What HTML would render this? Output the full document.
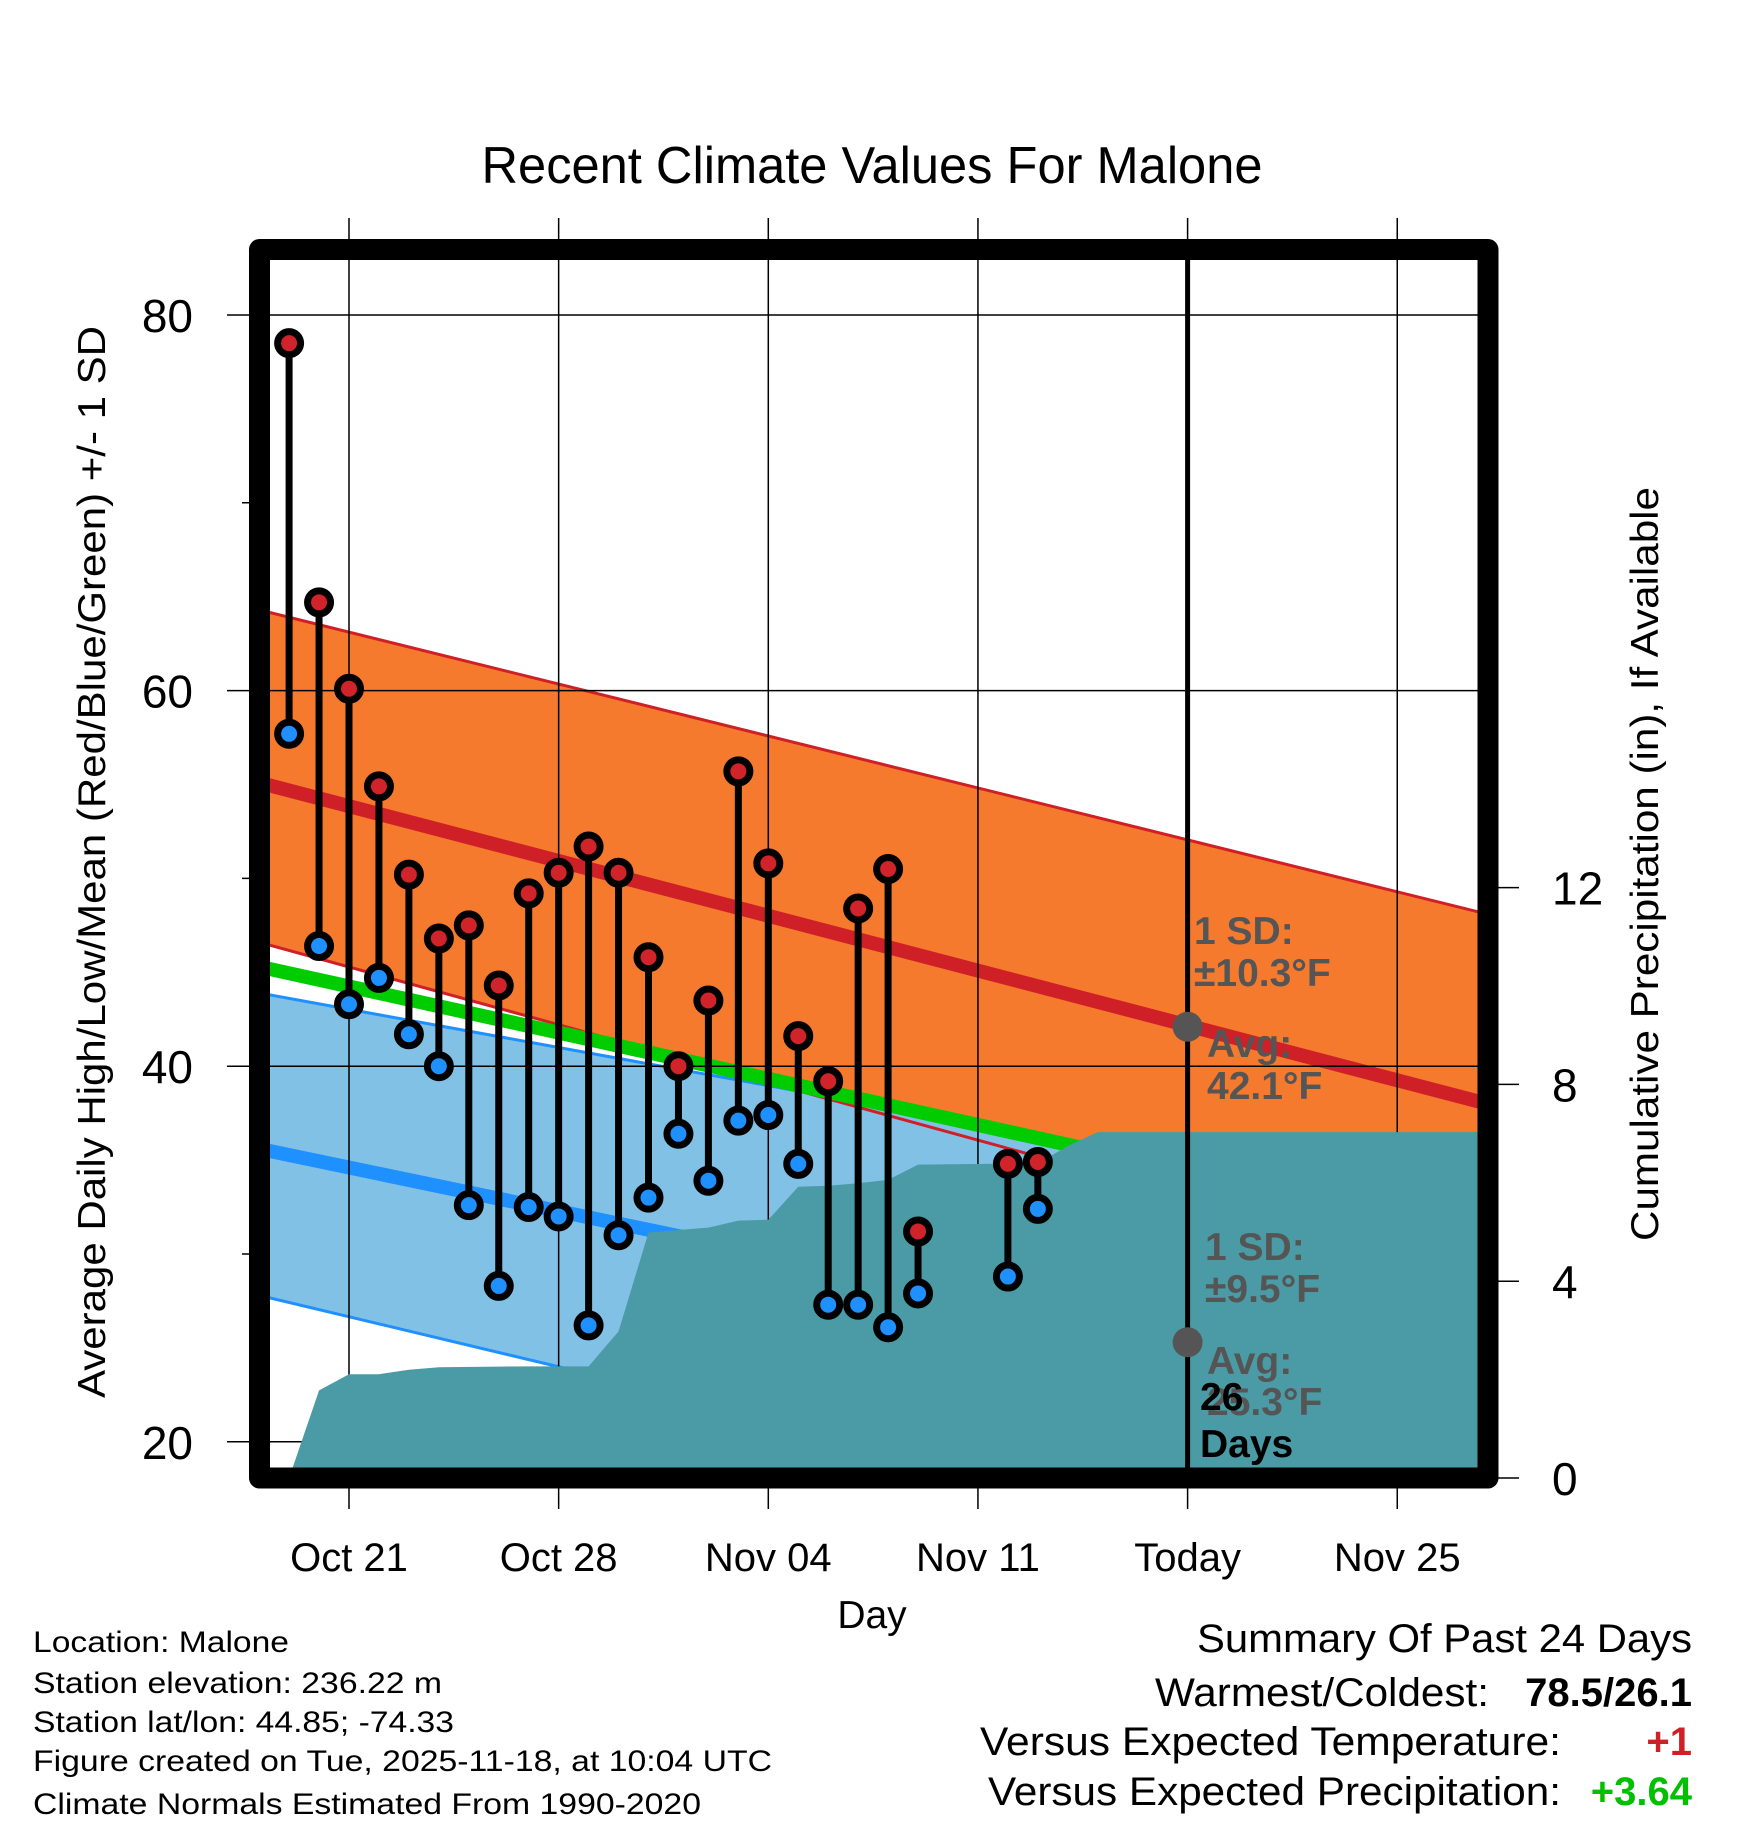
<!DOCTYPE html>
<html><head><meta charset="utf-8"><style>
html,body{margin:0;padding:0;background:#fff;}
svg{display:block;font-family:"Liberation Sans",sans-serif;}
</style></head><body>
<svg id="chart" width="1748" height="1828" viewBox="0 0 1748 1828" xmlns="http://www.w3.org/2000/svg">
<defs><clipPath id="plotclip"><rect x="259.5" y="249.5" width="1228.5" height="1228.5"/></clipPath></defs>
<text x="872" y="183" font-size="52" text-anchor="middle" textLength="781" lengthAdjust="spacingAndGlyphs">Recent Climate Values For Malone</text>
<g id="bands" clip-path="url(#plotclip)"></g>
<g id="grid"></g>
<g id="precip" clip-path="url(#plotclip)"></g>
<g id="marks"></g>
<g id="annot" font-weight="bold" font-size="39" fill="#555"></g>
<rect x="259.5" y="249.5" width="1228.5" height="1228.5" fill="none" stroke="#000" stroke-width="21" stroke-linejoin="round"/>
<g id="axes"></g>
<text transform="translate(105,862) rotate(-90)" font-size="39" text-anchor="middle" textLength="1072" lengthAdjust="spacingAndGlyphs">Average Daily High/Low/Mean (Red/Blue/Green) +/- 1 SD</text>
<text transform="translate(1658,864) rotate(-90)" font-size="39" text-anchor="middle" textLength="754" lengthAdjust="spacingAndGlyphs">Cumulative Precipitation (in), If Available</text>
<text x="872" y="1628" font-size="39" text-anchor="middle">Day</text>
<g font-size="30">
<text x="33" y="1652" textLength="256" lengthAdjust="spacingAndGlyphs">Location: Malone</text>
<text x="33" y="1693" textLength="409" lengthAdjust="spacingAndGlyphs">Station elevation: 236.22 m</text>
<text x="33" y="1732" textLength="421" lengthAdjust="spacingAndGlyphs">Station lat/lon: 44.85; -74.33</text>
<text x="33" y="1771" textLength="739" lengthAdjust="spacingAndGlyphs">Figure created on Tue, 2025-11-18, at 10:04 UTC</text>
<text x="33" y="1814" textLength="668" lengthAdjust="spacingAndGlyphs">Climate Normals Estimated From 1990-2020</text>
</g>
<g font-size="40">
<text x="1197" y="1652" textLength="495" lengthAdjust="spacingAndGlyphs">Summary Of Past 24 Days</text>
<text x="1155" y="1706" textLength="334" lengthAdjust="spacingAndGlyphs">Warmest/Coldest:</text>
<text x="1692" y="1706" text-anchor="end" font-weight="bold">78.5/26.1</text>
<text x="980" y="1755" textLength="581" lengthAdjust="spacingAndGlyphs">Versus Expected Temperature:</text>
<text x="1692" y="1755" text-anchor="end" font-weight="bold" fill="#d02027">+1</text>
<text x="988" y="1805" textLength="573" lengthAdjust="spacingAndGlyphs">Versus Expected Precipitation:</text>
<text x="1692" y="1805" text-anchor="end" font-weight="bold" fill="#00c000">+3.64</text>
</g>
</svg>
<script>
// ---- data ----
const obsDates = ["2025-10-19","2025-10-20","2025-10-21","2025-10-22","2025-10-23","2025-10-24","2025-10-25","2025-10-26","2025-10-27","2025-10-28","2025-10-29","2025-10-30","2025-10-31","2025-11-01","2025-11-02","2025-11-03","2025-11-04","2025-11-05","2025-11-06","2025-11-07","2025-11-08","2025-11-09","2025-11-12","2025-11-13"];
const highs = [78.5,64.7,60.1,54.9,50.2,46.8,47.5,44.3,49.2,50.3,51.7,50.3,45.8,40.0,43.5,55.7,50.8,41.6,39.2,48.4,50.5,31.2,34.8,34.9];
const lows = [57.7,46.4,43.3,44.7,41.7,40.0,32.6,28.3,32.5,32.0,26.2,31.0,33.0,36.4,33.9,37.1,37.4,34.8,27.3,27.3,26.1,27.9,28.8,32.4];
const precipDates = ["2025-10-19","2025-10-20","2025-10-21","2025-10-22","2025-10-23","2025-10-24","2025-10-27","2025-10-29","2025-10-30","2025-10-31","2025-11-01","2025-11-02","2025-11-03","2025-11-04","2025-11-05","2025-11-06","2025-11-07","2025-11-08","2025-11-09","2025-11-12","2025-11-13","2025-11-14","2025-11-15","2025-11-28"];
const precipCum = [0,1.78,2.11,2.11,2.2,2.25,2.27,2.27,2.98,4.99,5.04,5.09,5.23,5.25,5.92,5.94,5.99,6.06,6.37,6.39,6.39,6.75,7.03,7.03];
const normDates = ["2025-10-18","2025-11-28"];
const normHighUpper = [64.3,48.1];
const normHigh = [55.1,38.0];
const normHighLower = [46.6,28.6];
const normMean = [45.3,30.9];
const normLowUpper = [43.9,32.0];
const normLow = [35.6,22.0];
const normLowLower = [27.8,12.2];
const xTickDates = ["2025-10-21","2025-10-28","2025-11-04","2025-11-11","2025-11-18","2025-11-25"];
const xTickLabels = ["Oct 21","Oct 28","Nov 04","Nov 11","Today","Nov 25"];
const yTicks = [20,40,60,80];
const yMinorTicks = [30,50,70];
const y2Ticks = [0,4,8,12];
const todayDate = "2025-11-18";
const todayAvgHigh = 42.1, todayAvgLow = 25.3;

// ---- scales ----
const NS="http://www.w3.org/2000/svg";
const T0 = Date.UTC(2025,9,21);
function day(s){const p=s.split("-");return (Date.UTC(+p[0],+p[1]-1,+p[2])-T0)/86400000;}
function X(s){return 349+day(s)*29.95;}
function Y(t){return 315+(80-t)*18.78;}
function YP(p){return 1478-p*49.2;}
function el(tag,attrs,parent){const e=document.createElementNS(NS,tag);for(const k in attrs)e.setAttribute(k,attrs[k]);parent.appendChild(e);return e;}
const bands=document.getElementById('bands'),grid=document.getElementById('grid'),precip=document.getElementById('precip'),marks=document.getElementById('marks'),annot=document.getElementById('annot'),axes=document.getElementById('axes');
function line2(arr){return [[X(normDates[0]),Y(arr[0])],[X(normDates[1]),Y(arr[1])]];}
function poly(a,b){const p=a.concat(b.slice().reverse());return p.map(q=>q.join(',')).join(' ');}

let e;
e=el('polygon',{points:poly(line2(normHighUpper),line2(normHighLower)),fill:'#f57a2e'},bands);


e=el('polygon',{points:poly(line2(normLowUpper),line2(normLowLower)),fill:'#82c1e6'},bands);


[[normHighUpper,'#d02027',3,'high-sd-upper'],[normHighLower,'#d02027',3,'high-sd-lower'],[normLowUpper,'#1e90ff',3,'low-sd-upper'],[normLowLower,'#1e90ff',3,'low-sd-lower'],[normHigh,'#d02027',14,'normal-high-line'],[normMean,'#00cc00',14,'normal-mean-line'],[normLow,'#1e90ff',14,'normal-low-line']].forEach(c=>{
  const l=line2(c[0]);
  const ln=el('line',{x1:l[0][0],y1:l[0][1],x2:l[1][0],y2:l[1][1],stroke:c[1],'stroke-width':c[2]},bands);
  
  
});

yTicks.forEach(t=>{const g=el('line',{x1:259.5,x2:1488,y1:Y(t),y2:Y(t),stroke:'#000','stroke-width':1.5},grid);
  
  });
xTickDates.forEach(d=>{const g=el('line',{x1:X(d),x2:X(d),y1:218,y2:1509,stroke:'#000','stroke-width':1.5},grid);
  
  });

let pts=precipDates.map((d,i)=>[X(d),YP(precipCum[i])]);
pts.push([X(precipDates[precipDates.length-1]),YP(0)+20]);pts.push([X(precipDates[0]),YP(0)+20]);
e=el('polygon',{points:pts.map(q=>q.join(',')).join(' '),fill:'#4a9ba5'},precip);



e=el('line',{x1:X(todayDate),x2:X(todayDate),y1:255,y2:1475,stroke:'#000','stroke-width':5},marks);


e=el('circle',{cx:X(todayDate),cy:Y(todayAvgHigh),r:15,fill:'#555'},marks);


e=el('circle',{cx:X(todayDate),cy:Y(todayAvgLow),r:15,fill:'#555'},marks);



obsDates.forEach((d,i)=>{
  const x=X(d);
  const s=el('line',{x1:x,x2:x,y1:Y(highs[i]),y2:Y(lows[i]),stroke:'#000','stroke-width':7},marks);
  
  
});
obsDates.forEach((d,i)=>{
  const x=X(d);
  const h=el('circle',{cx:x,cy:Y(highs[i]),r:11.5,fill:'#d0232a',stroke:'#000','stroke-width':7},marks);
  
  
  const l=el('circle',{cx:x,cy:Y(lows[i]),r:11.5,fill:'#1e90ff',stroke:'#000','stroke-width':7},marks);
  
  
});

[["1 SD:",1194,944],["\u00B110.3\u00B0F",1194,986],["Avg:",1207,1057],["42.1\u00B0F",1207,1099],["1 SD:",1205,1260],["\u00B19.5\u00B0F",1205,1302],["Avg:",1207,1374],["25.3\u00B0F",1207,1415]].forEach(a=>{
  const t=el('text',{x:a[1],y:a[2]},annot);t.textContent=a[0];
  
  
});
[["26",1200,1410],["Days",1200,1457]].forEach(a=>{
  const t=el('text',{x:a[1],y:a[2],fill:'#000'},annot);t.textContent=a[0];
  
  
});

yTicks.forEach(t=>{
  const k=el('line',{x1:227,x2:259.5,y1:Y(t),y2:Y(t),stroke:'#000','stroke-width':1.5},axes);
  
  
  const tx=el('text',{x:193,y:Y(t)+17,'font-size':46,'text-anchor':'end'},axes);tx.textContent=t;
  
  
});
yMinorTicks.forEach(t=>{
  const k=el('line',{x1:242,x2:259.5,y1:Y(t),y2:Y(t),stroke:'#000','stroke-width':1.5},axes);
  
  
});
y2Ticks.forEach(p=>{
  const k=el('line',{x1:1488,x2:1519,y1:YP(p),y2:YP(p),stroke:'#000','stroke-width':1.5},axes);
  
  
  const tx=el('text',{x:1552,y:YP(p)+17,'font-size':46},axes);tx.textContent=p;
  
  
});
xTickDates.forEach((d,i)=>{
  const tx=el('text',{x:X(d),y:1571,'font-size':40,'text-anchor':'middle'},axes);tx.textContent=xTickLabels[i];
  
  
});
</script>
</body></html>
